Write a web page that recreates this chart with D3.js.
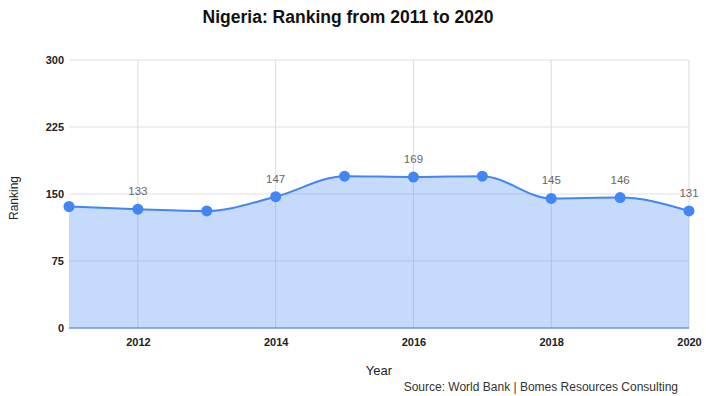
<!DOCTYPE html>
<html><head><meta charset="utf-8">
<script src="https://cdn.jsdelivr.net/npm/d3@7"></script>
<style>body{margin:0;background:#fff}svg{display:block;font-family:Arial,"Liberation Sans",sans-serif}</style>
</head><body><svg id="c" width="706" height="396"></svg>
<script>
const years = [2011,2012,2013,2014,2015,2016,2017,2018,2019,2020];
const ranking = [136,133,131,147,170,169,170,145,146,131];
const labelled = [2012,2014,2016,2018,2019,2020];
const yTicks = [0,75,150,225,300];
const xTicks = [2012,2014,2016,2018,2020];

const svg = d3.select("#c");
const m = {l:69, r:689, t:60, b:328};
const x = d3.scaleLinear().domain([2011,2020]).range([m.l,m.r]);
const y = d3.scaleLinear().domain([0,300]).range([m.b,m.t]);
const data = years.map((yr,i)=>({yr, v:ranking[i]}));

// gridlines
svg.append("g").selectAll("line").data(yTicks.filter(d=>d>0)).join("line")
  .attr("x1",m.l).attr("x2",m.r).attr("y1",d=>y(d)).attr("y2",d=>y(d))
  .attr("stroke","#e0e0e0").attr("stroke-width",1);
svg.append("g").selectAll("line").data(xTicks).join("line")
  .attr("x1",d=>x(d)).attr("x2",d=>x(d)).attr("y1",m.t).attr("y2",m.b)
  .attr("stroke","#dcdcdc").attr("stroke-width",1);

const curve = d3.curveMonotoneX;
svg.append("path").datum(data)
  .attr("d", d3.area().x(d=>x(d.yr)).y0(y(0)).y1(d=>y(d.v)).curve(curve))
  .attr("fill","#4285f4").attr("fill-opacity",0.3);
// baseline
svg.append("line").attr("x1",m.l).attr("x2",m.r).attr("y1",y(0)).attr("y2",y(0))
  .attr("stroke","#6f94d6").attr("stroke-width",1.5);
svg.append("path").datum(data)
  .attr("d", d3.line().x(d=>x(d.yr)).y(d=>y(d.v)).curve(curve))
  .attr("fill","none").attr("stroke","#4285f4").attr("stroke-width",2);
svg.append("g").selectAll("circle").data(data).join("circle")
  .attr("cx",d=>x(d.yr)).attr("cy",d=>y(d.v)).attr("r",5.5).attr("fill","#4285f4");
svg.append("g").selectAll("text").data(data.filter(d=>labelled.includes(d.yr))).join("text")
  .attr("x",d=>x(d.yr)).attr("y",d=>y(d.v)-14).attr("text-anchor","middle")
  .attr("font-size",11.5).attr("fill","#666").text(d=>d.v);

// axes
const ya = svg.append("g").attr("transform",`translate(${m.l-5},0)`)
  .call(d3.axisLeft(y).tickValues(yTicks).tickSize(0).tickPadding(0));
ya.select(".domain").remove();
ya.selectAll("text").attr("font-size",11).attr("font-weight","bold").attr("fill","#222")
  .attr("font-family","Arial,'Liberation Sans',sans-serif");
const xa = svg.append("g").attr("transform",`translate(0,${m.b+6})`)
  .call(d3.axisBottom(x).tickValues(xTicks).tickFormat(d3.format("d")).tickSize(0).tickPadding(4));
xa.select(".domain").remove();
xa.selectAll("text").attr("font-size",11).attr("font-weight","bold").attr("fill","#222")
  .attr("font-family","Arial,'Liberation Sans',sans-serif");

svg.append("text").attr("x",348).attr("y",23).attr("text-anchor","middle")
  .attr("font-size",17.5).attr("font-weight","bold").attr("fill","#111")
  .text("Nigeria: Ranking from 2011 to 2020");
svg.append("text").attr("x",379).attr("y",375).attr("text-anchor","middle")
  .attr("font-size",13).attr("fill","#222").text("Year");
svg.append("text").attr("transform","translate(18,198) rotate(-90)").attr("text-anchor","middle")
  .attr("font-size",12).attr("fill","#222").text("Ranking");
svg.append("text").attr("x",678).attr("y",391).attr("text-anchor","end")
  .attr("font-size",12).attr("fill","#333").text("Source: World Bank | Bomes Resources Consulting");
</script></body></html>
